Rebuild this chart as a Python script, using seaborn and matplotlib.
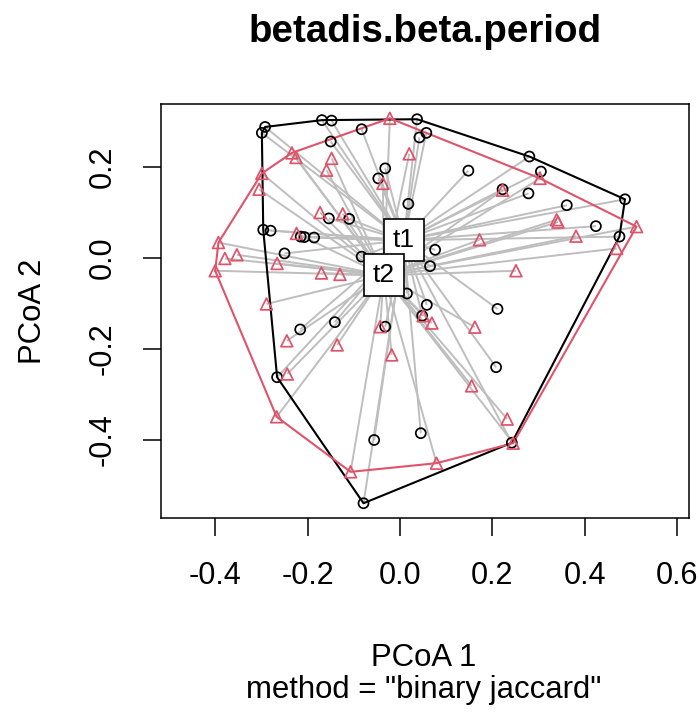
import numpy as np
import pandas as pd
import matplotlib
matplotlib.use("Agg")
import matplotlib.pyplot as plt
import seaborn as sns

# ---- data (PCoA scores) ----
t1_x = [-0.292, -0.299, -0.169, -0.148, -0.083, 0.037, 0.057, 0.042, -0.150, -0.032,
        -0.047, 0.018, -0.154, -0.110, -0.296, -0.280, -0.215, -0.207, -0.186, -0.250,
        -0.083, 0.015, 0.065, 0.076, 0.058, 0.048, -0.141, -0.032, -0.216, -0.266,
        -0.056, 0.045, -0.079, 0.211, 0.208, 0.242, 0.280, 0.148, 0.305, 0.222,
        0.278, 0.487, 0.361, 0.424, 0.475]
t1_y = [0.288, 0.275, 0.303, 0.302, 0.283, 0.305, 0.275, 0.265, 0.256, 0.197,
        0.175, 0.119, 0.087, 0.086, 0.062, 0.060, 0.047, 0.046, 0.045, 0.010,
        0.003, -0.078, -0.018, 0.018, -0.103, -0.127, -0.141, -0.151, -0.157, -0.262,
        -0.400, -0.385, -0.539, -0.112, -0.240, -0.406, 0.223, 0.192, 0.190, 0.151,
        0.142, 0.129, 0.116, 0.070, 0.047]
t2_x = [-0.022, -0.234, -0.225, -0.148, -0.159, 0.020, -0.299, -0.305, -0.037, -0.173,
        -0.124, -0.224, -0.393, -0.379, -0.353, -0.400, -0.266, -0.170, -0.130, -0.289,
        -0.245, -0.136, -0.043, -0.018, -0.244, -0.267, -0.107, 0.050, 0.069, 0.162,
        0.155, 0.232, 0.245, 0.079, 0.303, 0.222, 0.339, 0.342, 0.512, 0.381,
        0.172, 0.469, 0.251]
t2_y = [0.307, 0.231, 0.221, 0.219, 0.193, 0.229, 0.186, 0.151, 0.164, 0.100,
        0.097, 0.054, 0.034, -0.001, 0.007, -0.028, -0.012, -0.033, -0.036, -0.101,
        -0.182, -0.191, -0.151, -0.213, -0.255, -0.349, -0.470, -0.127, -0.143, -0.152,
        -0.281, -0.354, -0.407, -0.451, 0.175, 0.149, 0.084, 0.079, 0.069, 0.048,
        0.040, 0.021, -0.028]
groups = ["t1", "t2"]
centroid_x = [0.008, -0.035]
centroid_y = [0.039, -0.038]
group_colors = ["#000000", "#DF536B"]
group_markers = ["o", "^"]
x_ticks = [-0.4, -0.2, 0.0, 0.2, 0.4, 0.6]
y_ticks = [-0.4, -0.2, 0.0, 0.2]

df = pd.concat([
    pd.DataFrame({"x": t1_x, "y": t1_y, "group": "t1"}),
    pd.DataFrame({"x": t2_x, "y": t2_y, "group": "t2"}),
], ignore_index=True)


def convex_hull(pts):
    pts = sorted(set(pts))
    if len(pts) <= 2:
        return pts

    def cross(o, a, b):
        return (a[0] - o[0]) * (b[1] - o[1]) - (a[1] - o[1]) * (b[0] - o[0])

    lower, upper = [], []
    for p in pts:
        while len(lower) >= 2 and cross(lower[-2], lower[-1], p) <= 0:
            lower.pop()
        lower.append(p)
    for p in reversed(pts):
        while len(upper) >= 2 and cross(upper[-2], upper[-1], p) <= 0:
            upper.pop()
        upper.append(p)
    return lower[:-1] + upper[:-1]


sns.set_theme(style="ticks")
plt.rcParams["font.family"] = ["Liberation Sans", "DejaVu Sans"]
plt.rcParams["text.color"] = "black"
plt.rcParams["axes.labelcolor"] = "black"

W, H = 699, 713
fig = plt.figure(figsize=(W / 100, H / 100), dpi=100)
L, R, T, B = 161, 689, 104, 518
ax = fig.add_axes([L / W, 1 - B / H, (R - L) / W, (B - T) / H])

# segments from points to centroids
for gi, g in enumerate(groups):
    sub = df[df.group == g]
    for xx, yy in zip(sub.x, sub.y):
        ax.plot([xx, centroid_x[gi]], [yy, centroid_y[gi]], color="#BEBEBE",
                lw=1.4, zorder=1, solid_capstyle="butt")

# convex hulls
for gi, g in enumerate(groups):
    sub = df[df.group == g]
    hull = convex_hull(list(zip(sub.x, sub.y)))
    hull.append(hull[0])
    hx = [p[0] for p in hull]
    hy = [p[1] for p in hull]
    ax.plot(hx, hy, color=group_colors[gi], lw=1.5, zorder=2)

# points
for gi, g in enumerate(groups):
    sub = df[df.group == g]
    sns.scatterplot(data=sub, x="x", y="y", marker=group_markers[gi],
                    s=52 if gi == 0 else 72, facecolor="none",
                    edgecolor=group_colors[gi], linewidth=1.25, ax=ax, zorder=3,
                    legend=False)

# centroid labels
for gi, g in enumerate(groups):
    ax.text(centroid_x[gi], centroid_y[gi], g, ha="center", va="center",
            fontsize=19, zorder=5, color="black",
            bbox=dict(boxstyle="square,pad=0.34", fc="white", ec="black", lw=1.2))

ax.set_xlim((L - 400) / 462, (R - 400) / 462)
ax.set_ylim((258 - B) / 455, (258 - T) / 455)
ax.set_xticks(x_ticks)
ax.set_xticklabels([f"{v:.1f}" for v in x_ticks])
ax.set_yticks(y_ticks)
ax.set_yticklabels([f"{v:.1f}" for v in y_ticks], rotation=90, va="center")
ax.tick_params(axis="both", direction="out", length=13, width=1.1,
               labelsize=22, color="black", labelcolor="black")
ax.tick_params(axis="x", pad=18)
ax.tick_params(axis="y", pad=18)
for sp in ax.spines.values():
    sp.set_visible(True)
    sp.set_color("black")
    sp.set_linewidth(1.1)
ax.set_xlabel("")
ax.set_ylabel("")
ax.grid(False)
ax.set_facecolor("white")

fig.text(425 / W, 1 - 32 / H, "betadis.beta.period", ha="center", va="center",
         fontsize=27.7, fontweight="bold", color="black")
fig.text(424 / W, 1 - 666 / H, "PCoA 1", ha="center", va="baseline",
         fontsize=22.4, color="black")
fig.text(424 / W, 1 - 698 / H, 'method = "binary jaccard"', ha="center",
         va="baseline", fontsize=22.4, color="black")
fig.text(33 / W, 1 - 311 / H, "PCoA 2", ha="center", va="center", fontsize=22.4,
         rotation=90, color="black")

fig.savefig("out.png", dpi=100, facecolor="white")
